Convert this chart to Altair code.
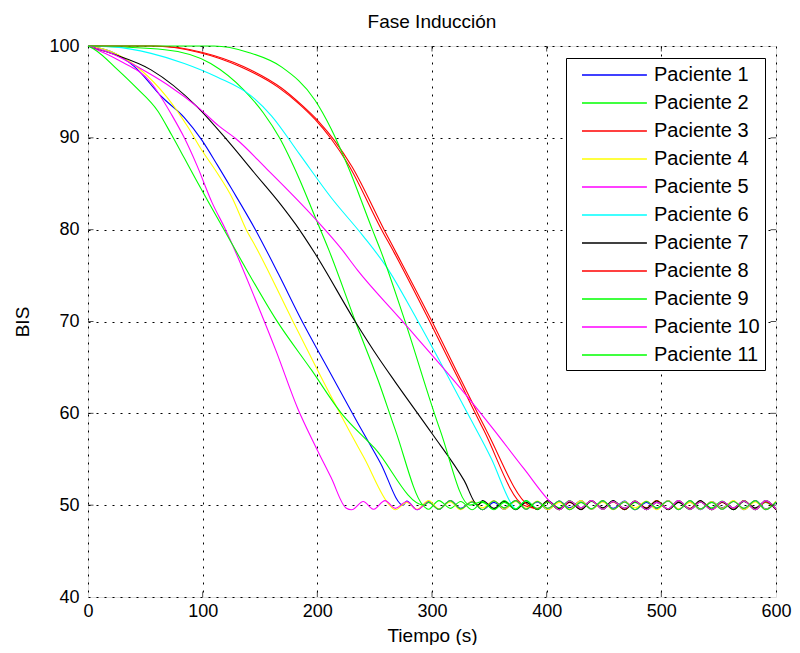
import altair as alt
import pandas as pd

FONT = "Liberation Sans"

patients = [f"Paciente {i}" for i in range(1, 12)]
colors = ["#0000FF", "#00FF00", "#FF0000", "#FFFF00", "#FF00FF", "#00FFFF",
          "#000000", "#FF0000", "#00FF00", "#FF00FF", "#00FF00"]

# descent part of each curve (time s, BIS)
p1_t = [0, 20, 41, 64, 84, 99, 113, 125, 146, 166, 186, 210, 235, 255, 275]
p1_v = [100, 99.4, 97.7, 94.5, 92.2, 89.8, 87.0, 84.5, 80.0, 75.2, 70.2, 64.7, 59.0, 54.6, 50.0]

p2_t = [0, 67, 107, 136, 153, 167, 184, 198, 210, 235, 253, 268, 292]
p2_v = [100, 99.6, 98.1, 95.2, 92.7, 90.0, 85.6, 81.4, 77.8, 69.4, 63.6, 58.2, 50.0]

p3_t = [0, 55, 97, 132, 166, 184, 198, 212, 227, 256, 267, 298, 322, 345, 380]
p3_v = [100, 100, 99.3, 97.8, 95.5, 93.7, 92.0, 89.9, 87.1, 80.0, 77.5, 70.0, 64.0, 58.2, 50.0]

p4_t = [0, 20, 45, 69, 87, 99, 112, 126, 138, 146, 178, 201, 227, 241, 263]
p4_v = [100, 99.4, 97.5, 94.4, 91.2, 88.7, 86.3, 83.4, 80.0, 78.2, 70.2, 64.5, 58.3, 55.1, 50.0]

p5_t = [0, 26, 55, 73, 84, 95, 108, 120, 146, 164, 183, 198, 212, 225]
p5_v = [100, 98.5, 96.0, 92.5, 90.0, 87.0, 83.0, 80.0, 72.4, 66.8, 60.5, 56.5, 53.0, 49.7]

p6_t = [0, 22, 55, 84, 113, 142, 160, 184, 212, 240, 260, 287, 331, 352, 370]
p6_v = [100, 99.9, 99.2, 98.1, 96.6, 94.6, 92.4, 88.3, 83.5, 79.3, 76.0, 70.2, 60.0, 55.0, 50.0]

p7_t = [0, 20, 55, 95, 121, 145, 169, 181, 198, 233, 253, 268, 300, 328, 340]
p7_v = [100, 99.2, 97.4, 93.4, 89.8, 86.2, 82.6, 80.6, 77.4, 70.0, 66.1, 63.4, 57.8, 52.7, 50.0]

p8_t = [0, 60, 100, 135, 169, 187, 201, 215, 230, 259, 270, 300, 325, 348, 384]
p8_v = [100, 100, 99.3, 97.8, 95.4, 93.5, 91.8, 89.7, 86.9, 79.8, 77.2, 70.0, 63.7, 58.0, 50.0]

p9_t = [0, 110, 140, 169, 198, 212, 227, 248, 255, 276, 307, 333]
p9_v = [100, 100, 99.3, 97.7, 94.1, 91.0, 86.8, 80.0, 77.8, 70.2, 58.2, 50.0]

p10_t = [0, 20, 45, 69, 97, 114, 129, 156, 198, 221, 235, 273, 331, 354, 380, 406]
p10_v = [100, 99.2, 97.6, 95.8, 93.2, 91.3, 89.9, 86.6, 81.2, 77.9, 75.6, 70.2, 61.8, 58.2, 54.0, 50.0]

p11_t = [0, 6, 26, 41, 61, 73, 84, 94, 106, 120, 138, 164, 195, 221, 250, 293]
p11_v = [100, 99.6, 97.4, 95.6, 92.9, 90.3, 87.8, 85.5, 82.8, 79.7, 75.7, 70.2, 64.7, 60.0, 56.2, 50.0]

# steady-state oscillation around BIS 50
tail_t = [230, 240, 249, 259, 268, 278, 287, 297, 306, 316, 325, 335, 344, 354,
          363, 373, 382, 392, 401, 411, 420, 430, 439, 449, 458, 468, 477, 487,
          496, 506, 515, 525, 534, 544, 553, 563, 572, 582, 591, 600]
ripple = [0.45, -0.5, 0.4, -0.45, 0.5, -0.35, 0.4, -0.5, 0.3, -0.45, 0.5, -0.4,
          0.35, -0.5, 0.45, -0.3, 0.5, -0.45, 0.4, -0.35, 0.45, -0.5, 0.3, -0.4,
          0.5, -0.45, 0.35, -0.5, 0.4, -0.3, 0.45, -0.5, 0.5, -0.4, 0.3, -0.45,
          0.4, -0.35, 0.5, -0.5, 0.35, -0.45, 0.45, -0.3]
tail_shift = [0, 3, 5, 7, 1, 9, 4, 11, 6, 13, 8]

series_t = [p1_t, p2_t, p3_t, p4_t, p5_t, p6_t, p7_t, p8_t, p9_t, p10_t, p11_t]
series_v = [p1_v, p2_v, p3_v, p4_v, p5_v, p6_v, p7_v, p8_v, p9_v, p10_v, p11_v]

xticks = [0, 100, 200, 300, 400, 500, 600]
yticks = [40, 50, 60, 70, 80, 90, 100]

rows = []
for i, name in enumerate(patients):
    ts, vs = series_t[i], series_v[i]
    for t, v in zip(ts, vs):
        rows.append({"Paciente": name, "t": t, "bis": v, "order": i})
    k = 0
    for t in tail_t:
        if t > ts[-1] + 2:
            rows.append({"Paciente": name, "t": t,
                         "bis": 50 + ripple[(k + tail_shift[i]) % len(ripple)],
                         "order": i})
            k += 1
df = pd.DataFrame(rows)

xs = alt.Scale(domain=[0, 600], nice=False, zero=False)
ys = alt.Scale(domain=[40, 100], nice=False, zero=False)

lines = alt.Chart(df).mark_line(strokeWidth=1.1, interpolate="monotone").encode(
    x=alt.X("t:Q", scale=xs, axis=alt.Axis(
        values=xticks, title="Tiempo (s)", grid=True, gridDash=[2, 6],
        gridColor="#000000", gridOpacity=1, tickSize=0, domain=False,
        labelFont=FONT, labelFontSize=18, labelColor="black", labelPadding=5,
        labelFlush=False, titleFont=FONT, titleFontSize=19,
        titleFontWeight="normal", titleColor="black", titlePadding=6)),
    y=alt.Y("bis:Q", scale=ys, axis=alt.Axis(
        values=yticks, title="BIS", grid=True, gridDash=[2, 6],
        gridColor="#000000", gridOpacity=1, tickSize=0, domain=False,
        labelFont=FONT, labelFontSize=18, labelColor="black", labelPadding=9,
        titleFont=FONT, titleFontSize=19, titleFontWeight="normal",
        titleColor="black", titlePadding=16)),
    color=alt.Color("Paciente:N", sort=patients,
                    scale=alt.Scale(domain=patients, range=colors),
                    legend=alt.Legend(
                        title=None, orient="none", legendX=478, legendY=12,
                        symbolType="M-1,0H4.9", symbolSize=484,
                        symbolStrokeWidth=1.5, symbolOffset=10,
                        labelOffset=49, labelFont=FONT, labelFontSize=20,
                        labelColor="black", rowPadding=6, padding=5,
                        strokeColor="black", fillColor="white")),
    detail="Paciente:N",
    order="t:Q",
)

tick_x = pd.DataFrame({"v": xticks[1:-1]})
tick_y = pd.DataFrame({"v": yticks[1:-1]})

bt = alt.Chart(tick_x).mark_tick(orient="vertical", size=11, thickness=1,
                                 color="black", clip=True).encode(
    x=alt.X("v:Q", scale=xs), y=alt.datum(40, scale=ys))
tt = alt.Chart(tick_x).mark_tick(orient="vertical", size=11, thickness=1,
                                 color="black", clip=True).encode(
    x=alt.X("v:Q", scale=xs), y=alt.datum(100, scale=ys))
lt = alt.Chart(tick_y).mark_tick(orient="horizontal", size=11, thickness=1,
                                 color="black", clip=True).encode(
    y=alt.Y("v:Q", scale=ys), x=alt.datum(0, scale=xs))
rt = alt.Chart(tick_y).mark_tick(orient="horizontal", size=11, thickness=1,
                                 color="black", clip=True).encode(
    y=alt.Y("v:Q", scale=ys), x=alt.datum(600, scale=xs))

chart = alt.layer(lines, bt, tt, lt, rt).properties(
    width=688, height=551,
    title=alt.TitleParams("Fase Inducción", font=FONT, fontSize=19,
                          fontWeight="normal", color="black",
                          anchor="middle", frame="group", offset=5),
    autosize=alt.AutoSizeParams(type="none"),
    padding={"left": 80, "top": 38, "right": 16, "bottom": 48},
).configure_view(stroke="black", strokeWidth=1.2).configure(background="white")

chart.save("out.html", embed_options={"renderer": "svg", "actions": False})
